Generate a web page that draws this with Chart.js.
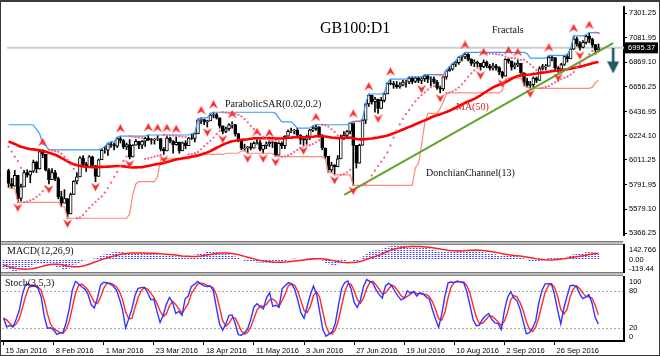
<!DOCTYPE html>
<html><head><meta charset="utf-8"><title>GB100:D1</title>
<script src="https://cdn.jsdelivr.net/npm/chart.js@4/dist/chart.umd.min.js"></script>
<style>
html,body{margin:0;padding:0;background:#fff;}
#wrap{position:relative;width:660px;height:356px;overflow:hidden;background:#fff;}
canvas{position:absolute;left:0;}
#cMain{top:0;} #cMacd{top:244px;} #cStoch{top:276px;}
.sep{position:absolute;left:0;width:623px;height:4px;background:#bdbdbd;border-top:1px solid #7a7a7a;border-bottom:1px solid #8a8a8a;box-sizing:border-box;}
#frame{position:absolute;left:0;top:0;width:660px;height:356px;box-sizing:border-box;border:1px solid #3a3a3a;border-top:2px solid #3a3a3a;pointer-events:none;}
</style></head>
<body>
<div id="wrap">
<canvas id="cMain" width="660" height="242"></canvas>
<canvas id="cMacd" width="660" height="29"></canvas>
<canvas id="cStoch" width="660" height="80"></canvas>
<div class="sep" style="top:241px"></div>
<div class="sep" style="top:272px"></div>
<div id="frame"></div>
</div>
<script>
// ---------------- DATA ----------------
const tickIndex = [0,16,32,48,64,80,96,112,128,144,160,176];
const tickLabels = ['15 Jan 2016','8 Feb 2016','1 Mar 2016','23 Mar 2016','18 Apr 2016','11 May 2016','3 Jun 2016','27 Jun 2016','19 Jul 2016','10 Aug 2016','2 Sep 2016','26 Sep 2016'];
const priceTicks = [7301.25,7081.95,6869.10,6656.25,6436.95,6224.10,6011.25,5791.95,5579.10,5366.25];
const macdTicks = [142.766, 0, -119.44];
const macdTickLabels = ['142.766','0.00','-119.44'];
const stochTicks = [100, 80, 20, 0];
const stochTickLabels = ['100','80','20','0'];

// closes before the first visible bar (2 Nov 2015 - 14 Jan 2016), for indicator warm-up
const histClose = [6361,6383,6412,6364,6353,6295,6275,6297,6178,6118,6146,6272,6278,6329,6334,6305,6277,6337,6393,6375,6356,
 6395,6420,6275,6238,6223,6136,6126,6088,5952,5874,5962,6061,6102,6052,6034,6083,6240,6254,6314,6274,6242,
 6093,6137,6073,5954,5912,5871,5929,5961,5918];
// highs / lows of 16 Dec 2015 - 14 Jan 2016
const histHigh = [6070,6140,6102,6075,6090,6245,6265,6320,6318,6280,6242,6150,6137,6073,6040,5940,5950,6000,5960];
const histLow  = [5965,6061,6020,6010,6020,6083,6235,6254,6265,6235,6071,6065,6020,5867,5900,5840,5860,5925,5824];
const sarSeed = 5866;

// visible daily bars, 15 Jan 2016 - 14 Oct 2016
const open = [5918,5804,5780,5877,5674,5774,5900,5877,5912,5990,5932,6084,6060,5922,5837,5899,5848,5689,5632,5672,
 5537,5708,5824,5862,6030,5972,5950,6038,5962,5867,6013,6096,6097,6153,6147,6131,6199,6182,6125,6146,
 6037,6140,6175,6140,6175,6201,6190,6185,6193,6199,6107,6091,6203,6175,6146,6165,6091,6162,6137,6204,
 6200,6242,6363,6365,6344,6354,6405,6410,6381,6310,6261,6285,6320,6322,6242,6186,6112,6117,6126,6115,
 6157,6163,6104,6139,6151,6168,6166,6053,6156,6136,6219,6263,6266,6271,6231,6192,6186,6210,6273,6285,
 6302,6232,6116,6043,5924,5967,5951,6021,6204,6227,6261,6338,6139,5982,6140,6360,6504,6578,6522,6545,
 6464,6534,6591,6683,6681,6670,6655,6669,6695,6697,6729,6700,6731,6710,6724,6750,6721,6724,6694,6645,
 6634,6740,6793,6809,6851,6866,6915,6916,6941,6894,6859,6869,6859,6829,6869,6836,6817,6838,6821,6782,
 6746,6895,6879,6826,6847,6859,6777,6701,6666,6673,6730,6710,6814,6831,6835,6911,6909,6818,6808,6849,
 6919,6899,6984,7074,7033,7000,7044,7097,7071,7024,6978];
const high = [5930,5850,5920,5877,5800,5920,5925,5915,6010,6000,6090,6100,6060,5935,5935,5920,5860,5735,5750,5672,
 5720,5830,5900,6040,6050,5990,6050,6045,5962,6020,6110,6130,6160,6170,6160,6210,6220,6190,6160,6190,
 6145,6190,6175,6180,6210,6230,6200,6200,6225,6199,6120,6225,6210,6180,6215,6170,6170,6180,6210,6240,
 6250,6370,6380,6370,6360,6420,6430,6420,6381,6310,6300,6330,6345,6322,6242,6190,6150,6130,6160,6170,
 6190,6185,6140,6170,6180,6175,6166,6165,6170,6225,6275,6290,6280,6290,6231,6200,6230,6280,6310,6320,
 6302,6232,6116,6043,5990,5970,6050,6230,6260,6270,6340,6350,6139,6150,6370,6510,6590,6580,6560,6545,
 6560,6600,6690,6720,6700,6700,6690,6710,6710,6740,6740,6740,6740,6740,6760,6760,6740,6740,6710,6660,
 6750,6800,6830,6860,6880,6920,6930,6955,6945,6900,6890,6880,6860,6890,6880,6850,6860,6850,6830,6790,
 6900,6905,6880,6865,6890,6860,6777,6730,6700,6740,6740,6830,6850,6850,6930,6920,6909,6830,6860,6930,
 6940,6990,7100,7090,7050,7060,7110,7129,7080,7024,7030];
const low = [5769,5760,5780,5639,5650,5774,5860,5810,5900,5900,5930,6030,5915,5800,5837,5830,5670,5600,5632,5499,
 5537,5708,5800,5862,5960,5910,5950,5950,5820,5867,6013,6070,6050,6120,6100,6120,6160,6110,6100,6020,
 6037,6140,6110,6110,6130,6180,6150,6150,6180,6090,6060,6091,6160,6070,6140,6070,6091,6110,6137,6190,
 6170,6242,6330,6320,6300,6354,6380,6370,6290,6240,6250,6270,6290,6220,6170,6100,6090,6070,6100,6115,
 6150,6090,6070,6110,6130,6120,6040,6053,6110,6110,6219,6250,6240,6220,6150,6140,6150,6190,6260,6270,
 6210,6100,6020,5900,5900,5880,5951,6021,6190,6200,6240,5788,5940,5982,6140,6330,6480,6500,6430,6420,
 6464,6520,6591,6670,6640,6640,6640,6660,6650,6680,6680,6690,6690,6680,6700,6690,6660,6680,6630,6600,
 6620,6720,6790,6800,6830,6850,6880,6900,6880,6840,6830,6830,6800,6820,6820,6800,6800,6800,6760,6730,
 6746,6860,6800,6810,6830,6770,6660,6650,6640,6650,6690,6710,6800,6800,6835,6880,6800,6780,6790,6840,
 6870,6899,6980,7010,6975,6995,7030,7040,7000,6940,6960];
const close = [5804,5780,5877,5674,5774,5900,5877,5912,5990,5932,6084,6060,5922,5837,5899,5848,5689,5632,5672,5537,
 5708,5824,5862,6030,5972,5950,6038,5962,5867,6013,6096,6097,6153,6147,6131,6199,6182,6125,6146,6037,
 6140,6175,6140,6175,6201,6190,6185,6193,6199,6107,6091,6203,6175,6146,6165,6091,6162,6137,6204,6200,
 6242,6363,6365,6344,6354,6405,6410,6381,6310,6261,6285,6320,6322,6242,6186,6112,6117,6126,6115,6157,
 6163,6104,6139,6151,6168,6166,6053,6156,6136,6219,6263,6266,6271,6231,6192,6186,6210,6273,6285,6302,
 6232,6116,6043,5924,5967,5951,6021,6204,6227,6261,6338,6139,5982,6140,6360,6504,6578,6522,6545,6464,
 6534,6591,6683,6681,6670,6655,6669,6695,6697,6729,6700,6731,6710,6724,6750,6721,6724,6694,6645,6634,
 6740,6793,6809,6851,6866,6915,6916,6941,6894,6859,6869,6859,6829,6869,6836,6817,6838,6821,6782,6746,
 6895,6879,6826,6847,6859,6777,6701,6666,6673,6730,6710,6814,6831,6835,6911,6909,6818,6808,6849,6919,
 6899,6984,7074,7033,7000,7044,7097,7071,7024,6978,6995.37];

// hand-drawn trend line and signal arrow (bar index, price)
const trendX = [108.1, 194.7];
const trendY = [5704, 7036];
const signalArrowX = [194.7];
const signalArrowY = [6880];

// ---------------- INDICATORS ----------------
const OFF = histHigh.length;
const H = histHigh.concat(high), L = histLow.concat(low);
const C = histClose.slice(-OFF).concat(close);
const CA = histClose.concat(close), COFF = histClose.length;
const bid = close[close.length - 1];

const ma50 = close.map((_, i) => { let s = 0; for (let j = i + COFF - 49; j <= i + COFF; j++) s += CA[j]; return {x: i, y: s / 50}; });

function ema(arr, n) { const k = 2 / (n + 1); const out = [arr[0]]; for (let i = 1; i < arr.length; i++) out.push(arr[i] * k + out[i - 1] * (1 - k)); return out; }
const e12 = ema(CA, 12), e26 = ema(CA, 26);
const macdAll = CA.map((_, j) => e12[j] - e26[j]);
const sigAll = macdAll.map((_, j) => { if (j < 8) return null; let s = 0; for (let k = j - 8; k <= j; k++) s += macdAll[k]; return s / 9; });
const macdHist = close.map((_, i) => ({x: i, y: macdAll[i + COFF]}));
const macdSig = close.map((_, i) => ({x: i, y: sigAll[i + COFF]}));

const kP = 5, dP = 3, slow = 3;
const stMain = new Array(H.length).fill(null);
for (let k = kP + slow - 2; k < H.length; k++) {
  let num = 0, den = 0;
  for (let s = 0; s < slow; s++) {
    const m = k - s; let hh = -Infinity, ll = Infinity;
    for (let t = m - kP + 1; t <= m; t++) { hh = Math.max(hh, H[t]); ll = Math.min(ll, L[t]); }
    num += C[m] - ll; den += hh - ll;
  }
  stMain[k] = den > 0 ? 100 * num / den : 100;
}
const stSig = stMain.map((_, k) => { if (k < kP + slow - 2 + dP - 1) return null; let s = 0; for (let t = k - dP + 1; t <= k; t++) s += stMain[t]; return s / dP; });
const stochMain = close.map((_, i) => ({x: i, y: stMain[i + OFF]}));
const stochSig = close.map((_, i) => ({x: i, y: stSig[i + OFF]}));

const dcP = 20;
const dcUp = close.map((_, i) => { let m = -Infinity; for (let t = i + OFF - dcP + 1; t <= i + OFF; t++) m = Math.max(m, H[t]); return {x: i, y: m}; });
const dcLo = close.map((_, i) => { let m = Infinity; for (let t = i + OFF - dcP + 1; t <= i + OFF; t++) m = Math.min(m, L[t]); return {x: i, y: m}; });

let up = true, sar = sarSeed, ep = H[0], af = 0.02;
const sarAll = [sar];
for (let k = 1; k < H.length; k++) {
  let nx = sar + af * (ep - sar);
  if (up) {
    nx = Math.min(nx, L[k - 1], k > 1 ? L[k - 2] : L[k - 1]);
    if (L[k] < nx) { up = false; nx = ep; ep = L[k]; af = 0.02; }
    else if (H[k] > ep) { ep = H[k]; af = Math.min(af + 0.02, 0.2); }
  } else {
    nx = Math.max(nx, H[k - 1], k > 1 ? H[k - 2] : H[k - 1]);
    if (H[k] > nx) { up = true; nx = ep; ep = H[k]; af = 0.02; }
    else if (L[k] < ep) { ep = L[k]; af = Math.min(af + 0.02, 0.2); }
  }
  sar = nx; sarAll.push(sar);
}
const sarPts = close.map((_, i) => ({x: i, y: sarAll[i + OFF]}));

const fracUp = [], fracDn = [];
for (let k = Math.max(2, OFF); k < H.length - 2; k++) {
  if (H[k] > H[k - 1] && H[k] > H[k - 2] && H[k] > H[k + 1] && H[k] > H[k + 2]) fracUp.push({x: k - OFF, y: H[k]});
  if (L[k] < L[k - 1] && L[k] < L[k - 2] && L[k] < L[k + 1] && L[k] < L[k + 2]) fracDn.push({x: k - OFF, y: L[k]});
}

// ---------------- STYLE HELPERS ----------------
function arrowCanvas(dir) {
  const c = document.createElement('canvas'); c.width = 9; c.height = 24;
  const g = c.getContext('2d'); g.fillStyle = '#ff2a2a'; g.beginPath();
  if (dir === 'up') { g.moveTo(4.5, 0); g.lineTo(9, 8.5); g.lineTo(4.5, 5.5); g.lineTo(0, 8.5); }
  else { g.moveTo(4.5, 21.5); g.lineTo(9, 13); g.lineTo(4.5, 16); g.lineTo(0, 13); }
  g.closePath(); g.fill(); return c;
}
function bigArrow() {
  const c = document.createElement('canvas'); c.width = 12; c.height = 25;
  const g = c.getContext('2d'); g.fillStyle = '#1d5868';
  g.fillRect(4.7, 0, 2.6, 15); g.beginPath(); g.moveTo(0, 13); g.lineTo(12, 13); g.lineTo(6, 25); g.closePath(); g.fill(); return c;
}
const dotCanvas = document.createElement('canvas'); dotCanvas.width = 1; dotCanvas.height = 2;
{ const g = dotCanvas.getContext('2d'); g.fillStyle = '#3a3aff'; g.fillRect(0, 0, 1, 1); }
const macdPattern = document.createElement('canvas').getContext('2d').createPattern(dotCanvas, 'repeat');

Chart.defaults.animation = false;
Chart.defaults.events = [];
Chart.defaults.font.family = "'Liberation Sans', Arial, sans-serif";
Chart.defaults.font.size = 7.5;
Chart.defaults.color = '#000';
Chart.defaults.plugins.legend.display = false;
Chart.defaults.plugins.tooltip.enabled = false;

const X_MIN = -0.5, X_MAX = 198.2, AXIS_W = 36;
const SERIF = "'Liberation Serif', 'Times New Roman', serif";

function textPlugin(items) {
  return { id: 'texts' + Math.random().toString(36).slice(2), afterDatasetsDraw(chart) {
    const ctx = chart.ctx;
    items.forEach(it => { ctx.save(); ctx.font = it.font; ctx.fillStyle = it.color || '#000'; ctx.textBaseline = 'middle'; ctx.textAlign = 'left'; ctx.fillText(it.text, it.x, it.y); ctx.restore(); });
  } };
}
function sideLabelPlugin(values, labels, padTop, padBottom) {
  return { id: 'side' + Math.random().toString(36).slice(2), afterDraw(chart) {
    const sc = chart.scales.y, a = chart.chartArea, ctx = chart.ctx;
    ctx.save(); ctx.font = "7.5px 'Liberation Sans', Arial, sans-serif"; ctx.fillStyle = '#000'; ctx.textBaseline = 'middle'; ctx.textAlign = 'left';
    values.forEach((v, i) => { let y = sc.getPixelForValue(v); y = Math.max(a.top + padTop, Math.min(a.bottom - padBottom, y)); ctx.fillText(labels[i], a.right + 5, y); });
    ctx.restore();
  } };
}
const bidBox = { id: 'bidBox', afterDraw(chart) {
  const ctx = chart.ctx, y = chart.scales.y.getPixelForValue(bid), r = chart.chartArea.right;
  ctx.save(); ctx.fillStyle = '#000'; ctx.fillRect(r + 1, y - 5.5, 33, 11);
  ctx.fillStyle = '#fff'; ctx.font = "7.5px 'Liberation Sans', Arial, sans-serif"; ctx.textBaseline = 'middle'; ctx.fillText(bid.toFixed(2), r + 4, y + 0.5); ctx.restore();
} };
const fixW = s => { s.width = AXIS_W; };

// ---------------- MAIN PRICE CHART ----------------
new Chart(document.getElementById('cMain'), {
  type: 'bar',
  data: { datasets: [
    { type: 'line', data: [{x: X_MIN, y: bid}, {x: X_MAX, y: bid}], borderColor: '#cfcfcf', borderWidth: 2, pointRadius: 0, order: 20 },
    { type: 'bar', data: close.map((c, i) => ({x: i, y: [low[i], high[i]]})), backgroundColor: '#000', barThickness: 1, grouped: false, order: 12 },
    { type: 'bar', data: close.map((c, i) => ({x: i, y: [open[i], c]})), grouped: false, barThickness: 3, borderWidth: 1, borderSkipped: false, borderColor: '#000',
      backgroundColor: ctx => (close[ctx.dataIndex] >= open[ctx.dataIndex] ? '#fff' : '#000'), order: 11 },
    { type: 'line', data: dcUp, borderColor: '#3d9bff', borderWidth: 1.2, pointRadius: 0, tension: 0, order: 6 },
    { type: 'line', data: dcLo, borderColor: '#ff8a7a', borderWidth: 1.2, pointRadius: 0, tension: 0, order: 6 },
    { type: 'line', data: ma50, borderColor: '#ff0000', borderWidth: 2.6, pointRadius: 0, tension: 0, order: 5 },
    { type: 'line', data: trendX.map((x, i) => ({x, y: trendY[i]})), borderColor: '#5ea42a', borderWidth: 2, pointRadius: 0, order: 4 },
    { type: 'line', data: sarPts, showLine: false, pointRadius: 1.15, pointBorderWidth: 0, pointBackgroundColor: '#f0668c', order: 3 },
    { type: 'line', data: fracUp, showLine: false, pointRadius: 5, pointStyle: arrowCanvas('up'), order: 1 },
    { type: 'line', data: fracDn, showLine: false, pointRadius: 5, pointStyle: arrowCanvas('down'), order: 1 },
    { type: 'line', data: signalArrowX.map((x, i) => ({x, y: signalArrowY[i]})), showLine: false, pointRadius: 6, pointStyle: bigArrow(), order: 0 }
  ] },
  options: {
    responsive: false, clip: false,
    layout: { padding: { left: 2, top: 2, right: 0, bottom: 1 } },
    scales: {
      x: { type: 'linear', min: X_MIN, max: X_MAX, display: false, offset: false },
      y: { type: 'linear', position: 'right', min: 5352, max: 7354, afterFit: fixW,
           afterBuildTicks: s => { s.ticks = priceTicks.map(v => ({value: v})); },
           ticks: { autoSkip: false, padding: 2, callback: v => v.toFixed(2) },
           grid: { display: true, drawOnChartArea: false, drawTicks: true, tickLength: 3, color: '#000' },
           border: { display: true, color: '#000', width: 2 } }
    }
  },
  plugins: [bidBox, textPlugin([
    { text: 'GB100:D1', x: 320, y: 29, font: '16px ' + SERIF, color: '#000' },
    { text: 'ParabolicSAR(0.02,0.2)', x: 225, y: 104.5, font: '10px ' + SERIF, color: '#111' },
    { text: 'Fractals', x: 492, y: 30, font: '10px ' + SERIF, color: '#111' },
    { text: 'MA(50)', x: 456, y: 107, font: '10px ' + SERIF, color: '#e21b1b' },
    { text: 'DonchianChannel(13)', x: 426, y: 173, font: '10px ' + SERIF, color: '#111' }
  ])]
});

// ---------------- MACD ----------------
new Chart(document.getElementById('cMacd'), {
  type: 'bar',
  data: { datasets: [
    { type: 'line', data: macdSig, borderColor: '#ff2020', borderWidth: 1.5, pointRadius: 0, tension: 0, order: 0 },
    { type: 'bar', data: macdHist, backgroundColor: macdPattern, barThickness: 1, grouped: false, order: 1 }
  ] },
  options: {
    responsive: false,
    layout: { padding: { left: 2, top: 1, right: 0, bottom: 1 } },
    scales: {
      x: { type: 'linear', min: X_MIN, max: X_MAX, display: false, offset: false },
      y: { type: 'linear', position: 'right', min: macdTicks[2], max: macdTicks[0], afterFit: fixW,
           ticks: { display: false }, grid: { display: false }, border: { display: true, color: '#000', width: 2 } }
    }
  },
  plugins: [sideLabelPlugin(macdTicks, macdTickLabels, 5, 3), textPlugin([
    { text: 'MACD(12,26,9)', x: 7, y: 7, font: '10px ' + SERIF, color: '#111' }
  ])]
});

// ---------------- STOCHASTIC ----------------
new Chart(document.getElementById('cStoch'), {
  type: 'line',
  data: { datasets: [
    { data: stochSig, borderColor: '#ff2a2a', borderWidth: 1.4, pointRadius: 0, tension: 0, order: 1 },
    { data: stochMain, borderColor: '#3434ff', borderWidth: 1.4, pointRadius: 0, tension: 0, order: 0 }
  ] },
  options: {
    responsive: false,
    layout: { padding: { left: 2, top: 0, right: 0, bottom: 0 } },
    scales: {
      x: { type: 'linear', min: X_MIN, max: X_MAX, offset: false, afterFit: s => { s.height = 15; },
           afterBuildTicks: s => { s.ticks = tickIndex.map(v => ({value: v})); },
           ticks: { autoSkip: false, maxRotation: 0, align: 'start', padding: 1, labelOffset: 2, callback: (v, i) => tickLabels[i] },
           grid: { display: true, drawOnChartArea: false, drawTicks: true, tickLength: 4, color: '#000' },
           border: { display: true, color: '#000', width: 2 } },
      y: { type: 'linear', position: 'right', min: -1.1, max: 104.4, afterFit: fixW,
           afterBuildTicks: s => { s.ticks = stochTicks.map(v => ({value: v})); },
           ticks: { display: false },
           grid: { display: true, drawTicks: false, lineWidth: 1, color: c => (c.tick && (c.tick.value === 20 || c.tick.value === 80)) ? '#a8a8a8' : 'rgba(0,0,0,0)' },
           border: { display: true, color: '#000', width: 2, dash: [2, 2] } }
    }
  },
  plugins: [sideLabelPlugin(stochTicks, stochTickLabels, 6, 4), textPlugin([
    { text: 'Stoch(3,5,3)', x: 5, y: 7, font: '10px ' + SERIF, color: '#111' }
  ])]
});
</script>
</body></html>
